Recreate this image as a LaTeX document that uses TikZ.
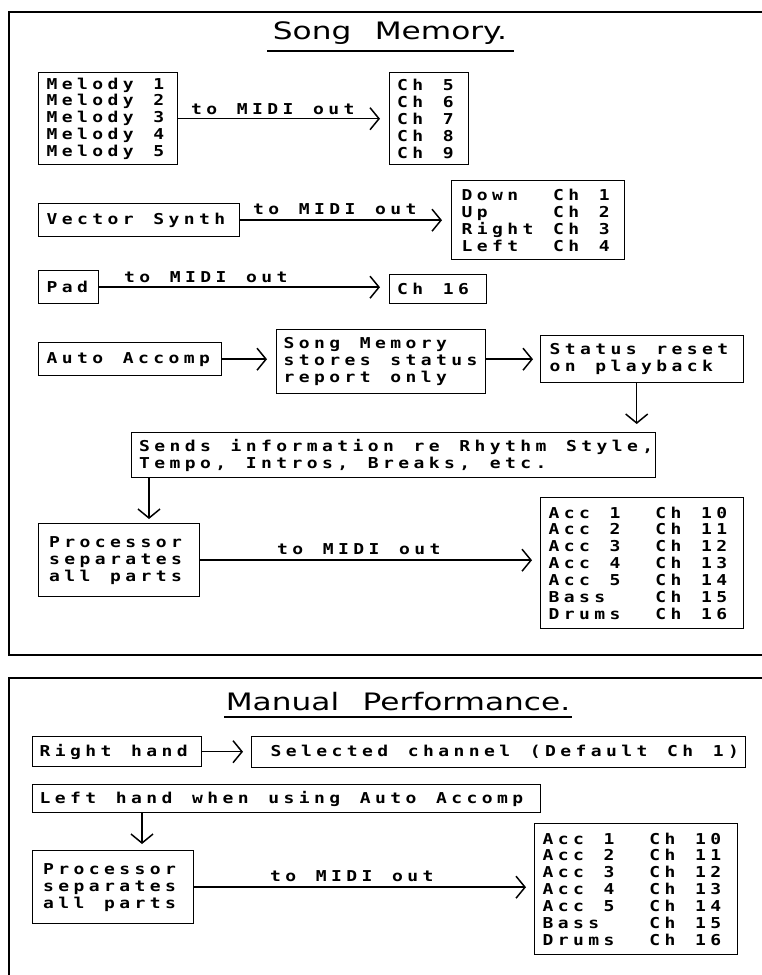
\documentclass[tikz,border=0pt]{standalone}
\usepackage{fontspec}
\usepackage{graphicx}
\usetikzlibrary{arrows.meta}
\newfontfamily\monofnt{DejaVu Sans Mono}
\newfontfamily\titlefnt{DejaVu Sans}
\newlength\mtpitch
\setlength\mtpitch{15.25pt}
\ExplSyntaxOn
\NewDocumentCommand\mt{m}{
  \str_map_inline:nn {#1}
    {
      \str_if_eq:nnTF {##1} {|}
        { \makebox[\mtpitch][l]{} }
        { \makebox[\mtpitch][l]{\scalebox{1.2}[1]{##1}} }
    }
}
\ExplSyntaxOff
\begin{document}
\begin{tikzpicture}[x=1pt,y=-1pt,
  bx/.style={draw, line width=1.4pt, inner ysep=0pt, align=left, anchor=north west,
    font=\monofnt\bfseries\fontsize{15}{16.9}\selectfont},
  lbl/.style={inner sep=0pt, anchor=west, font=\monofnt\bfseries\fontsize{15}{16.9}\selectfont},
  ttl/.style={inner sep=0pt, font=\titlefnt\fontsize{24}{28}\selectfont},
  arr/.style={line width=1.5pt, shorten >=9pt, -{Straight Barb[length=9pt,width=22pt,line width=1.5pt]}},
  frm/.style={line width=1.6pt},
  uline/.style={line width=2pt}]
\useasboundingbox (0,0) rectangle (762,975);
% frames
\draw[frm] (762,12) -- (9,12) -- (9,655) -- (762,655);
\draw[frm] (762,678) -- (9,678) -- (9,975);
% ---- Song Memory ----
\node[ttl] (t1) at (390,33) {\scalebox{1.3}[1]{Song\hspace{18pt}Memory.}};
\draw[uline] (267,51) -- (514,51);

\node[bx, inner xsep=8pt, minimum height=92pt, text width=123pt] (mel) at (38,72)
  {\mt{Melody 1}\\\mt{Melody 2}\\\mt{Melody 3}\\\mt{Melody 4}\\\mt{Melody 5}};
\node[bx, inner xsep=7.5pt, minimum height=92pt, text width=64pt] (ch59) at (389,72)
  {\mt{Ch 5}\\\mt{Ch 6}\\\mt{Ch 7}\\\mt{Ch 8}\\\mt{Ch 9}};
\draw[arr] (mel.east) -- (mel.east -| ch59.west);
\node[lbl] (l1) at (191,109) {\mt{to MIDI out}};

\node[bx, inner xsep=8pt, minimum height=33pt, text width=185pt] (vec) at (38,203) {\mt{Vector Synth}};
\node[bx, inner xsep=10pt, minimum height=79pt, text width=153pt] (dir) at (451,180)
  {\mt{Down||Ch 1}\\\mt{Up||||Ch 2}\\\mt{Right Ch 3}\\\mt{Left||Ch 4}};
\draw[arr] (vec.east) -- (vec.east -| dir.west);
\node[lbl] (l2) at (253,209) {\mt{to MIDI out}};

\node[bx, inner xsep=8pt, minimum height=33pt, text width=44pt] (pad) at (38,270) {\mt{Pad}};
\node[bx, inner xsep=7.5pt, minimum height=29pt, text width=82pt] (c16) at (389,274) {\mt{Ch 16}};
\draw[arr] (pad.east) -- (pad.east -| c16.west);
\node[lbl] (l3) at (124,277) {\mt{to MIDI out}};

\node[bx, inner xsep=8pt, minimum height=33pt, text width=167pt] (auto) at (38,342) {\mt{Auto Accomp}};
\node[bx, inner xsep=7pt, minimum height=64pt, text width=195pt] (sm) at (276,329)
  {\mt{Song Memory}\\\mt{stores status}\\\mt{report only}};
\node[bx, inner xsep=9pt, minimum height=47pt, text width=185pt] (st) at (540,335)
  {\mt{Status reset}\\\mt{on playback}};
\draw[arr] (auto.east) -- (auto.east -| sm.west);
\draw[arr, shorten >=7pt] (sm.east |- st.west) -- (st.west);

\node[bx, inner xsep=7.5pt, minimum height=45pt, text width=509pt] (sends) at (131,432)
  {\mt{Sends information re Rhythm Style,}\\\mt{Tempo, Intros, Breaks, etc.}};
\draw[arr, shorten >=8pt] ([xshift=-5.5pt]st.south) -- ([xshift=-5.5pt]st.south |- sends.north);

\node[bx, inner xsep=10.5pt, minimum height=73pt, text width=140pt] (proc) at (38,523)
  {\mt{Processor}\\\mt{separates}\\\mt{all parts}};
\draw[arr, shorten >=4pt] ([xshift=18pt]sends.south west) -- ([xshift=18pt]sends.south west |- proc.north);

\node[bx, inner xsep=8pt, minimum height=131pt, text width=187pt] (acc) at (540,497)
  {\mt{Acc 1||Ch 10}\\\mt{Acc 2||Ch 11}\\\mt{Acc 3||Ch 12}\\\mt{Acc 4||Ch 13}\\\mt{Acc 5||Ch 14}\\\mt{Bass|||Ch 15}\\\mt{Drums||Ch 16}};
\draw[arr, shorten >=8pt] (proc.east) -- (proc.east -| acc.west);
\node[lbl] (l4) at (277,549) {\mt{to MIDI out}};

% ---- Manual Performance ----
\node[ttl] (t2) at (398,702) {\scalebox{1.3}[1]{Manual\hspace{18pt}Performance.}};
\draw[uline] (224,717) -- (572,717);

\node[bx, inner xsep=7pt, minimum height=30pt, text width=155pt] (rh) at (32,736) {\mt{Right hand}};
\node[bx, inner xsep=19pt, minimum height=31pt, text width=456pt] (sel) at (251,736)
  {\mt{Selected channel (Default Ch 1)}};
\draw[arr, shorten >=8pt] (rh.east) -- (rh.east -| sel.west);

\node[bx, inner xsep=7pt, minimum height=28pt, text width=494pt] (lh) at (32,784)
  {\mt{Left hand when using Auto Accomp}};
\node[bx, inner xsep=10.5pt, minimum height=73pt, text width=140pt] (proc2) at (32,850)
  {\mt{Processor}\\\mt{separates}\\\mt{all parts}};
\draw[arr, shorten >=6pt] ([xshift=110pt]lh.south west) -- ([xshift=110pt]lh.south west |- proc2.north);

\node[bx, inner xsep=8pt, minimum height=131pt, text width=187pt] (acc2) at (534,823)
  {\mt{Acc 1||Ch 10}\\\mt{Acc 2||Ch 11}\\\mt{Acc 3||Ch 12}\\\mt{Acc 4||Ch 13}\\\mt{Acc 5||Ch 14}\\\mt{Bass|||Ch 15}\\\mt{Drums||Ch 16}};
\draw[arr, shorten >=8pt] (proc2.east) -- (proc2.east -| acc2.west);
\node[lbl] (l5) at (270,876) {\mt{to MIDI out}};
\end{tikzpicture}
\end{document}
